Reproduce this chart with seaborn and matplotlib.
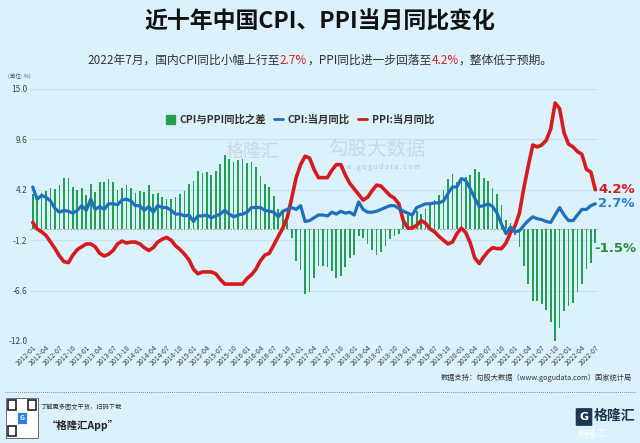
import numpy as np
import pandas as pd
import matplotlib
matplotlib.use('Agg')
import matplotlib.pyplot as plt
import seaborn as sns
from matplotlib.lines import Line2D
from matplotlib.patches import Patch, Rectangle, FancyBboxPatch

# CPI / PPI YoY (%), monthly 2012-01 .. 2022-07
cpi = [4.5, 3.2, 3.6, 3.4, 3.0, 2.2, 1.8, 2.0, 1.9, 1.7, 2.0, 2.5,
       2.0, 3.2, 2.1, 2.4, 2.1, 2.7, 2.7, 2.6, 3.1, 3.2, 3.0, 2.5,
       2.5, 2.0, 2.4, 1.8, 2.5, 2.3, 2.3, 2.0, 1.6, 1.6, 1.4, 1.5,
       0.8, 1.4, 1.4, 1.5, 1.2, 1.4, 1.6, 2.0, 1.6, 1.3, 1.5, 1.6,
       1.8, 2.3, 2.3, 2.3, 2.0, 1.9, 1.8, 1.3, 1.9, 2.1, 2.3, 2.1,
       2.5, 0.8, 0.9, 1.2, 1.5, 1.5, 1.4, 1.8, 1.6, 1.9, 1.7, 1.8,
       1.5, 2.9, 2.1, 1.8, 1.8, 1.9, 2.1, 2.3, 2.5, 2.5, 2.2, 1.9,
       1.7, 1.5, 2.3, 2.5, 2.7, 2.7, 2.8, 2.8, 3.0, 3.8, 4.5, 4.5,
       5.4, 5.2, 4.3, 3.3, 2.4, 2.5, 2.7, 2.4, 1.7, 0.5, -0.5, 0.2,
       -0.3, -0.2, 0.4, 0.9, 1.3, 1.1, 1.0, 0.8, 0.7, 1.5, 2.3, 1.5,
       0.9, 0.9, 1.5, 2.1, 2.1, 2.5, 2.7]
ppi = [0.7, 0.0, -0.3, -0.7, -1.4, -2.1, -2.9, -3.5, -3.6, -2.8, -2.2, -1.9,
       -1.6, -1.6, -1.9, -2.6, -2.9, -2.7, -2.3, -1.6, -1.3, -1.5, -1.4, -1.4,
       -1.6, -2.0, -2.3, -2.0, -1.4, -1.1, -0.9, -1.2, -1.8, -2.2, -2.7, -3.3,
       -4.3, -4.8, -4.6, -4.6, -4.6, -4.8, -5.4, -5.9, -5.9, -5.9, -5.9, -5.9,
       -5.3, -4.9, -4.3, -3.4, -2.8, -2.6, -1.7, -0.8, 0.1, 1.2, 3.3, 5.5,
       6.9, 7.8, 7.6, 6.4, 5.5, 5.5, 5.5, 6.3, 6.9, 6.9, 5.8, 4.9,
       4.3, 3.7, 3.1, 3.4, 4.1, 4.7, 4.6, 4.1, 3.6, 3.3, 2.7, 0.9,
       0.1, 0.1, 0.4, 0.9, 0.6, 0.0, -0.3, -0.8, -1.2, -1.6, -1.4, -0.5,
       0.1, -0.4, -1.5, -3.1, -3.7, -3.0, -2.4, -2.0, -2.1, -2.1, -1.5, -0.4,
       0.3, 1.7, 4.4, 6.8, 9.0, 8.8, 9.0, 9.5, 10.7, 13.5, 12.9, 10.3,
       9.1, 8.8, 8.3, 8.0, 6.4, 6.1, 4.2]
months = pd.date_range('2012-01', '2022-07', freq='MS').strftime('%Y-%m').tolist()
yticks = [15.0, 9.6, 4.2, -1.2, -6.6, -12.0]

df = pd.DataFrame({'month': months, 'cpi': cpi, 'ppi': ppi})
df['idx'] = np.arange(len(df))
df['diff'] = df['cpi'] - df['ppi']

bg = '#dbf1fb'
green = '#22a052'
blue = '#1f6fbf'
red = '#d71a1e'

sns.set_style('white')
plt.rcParams['font.family'] = ['Noto Sans CJK SC', 'DejaVu Sans']

fig = plt.figure(figsize=(6.4, 4.43), dpi=100, facecolor=bg)
ax = fig.add_axes([30 / 640, 1 - 341 / 443, 568 / 640, 252 / 443])
ax.set_facecolor(bg)

sns.barplot(data=df, x='idx', y='diff', native_scale=True, color=green,
            width=0.38, saturation=1, linewidth=0, ax=ax, zorder=2)
sns.lineplot(data=df, x='idx', y='cpi', color=blue, lw=2.3, ax=ax, zorder=4)
sns.lineplot(data=df, x='idx', y='ppi', color=red, lw=2.6, ax=ax, zorder=3)

ax.set_ylim(-12, 15)
ax.set_xlim(-0.6, len(df) - 0.4)
ax.set_yticks(yticks)
ax.set_yticklabels([f'{v:.1f}' for v in yticks], fontsize=6, color='#444444')
for v in yticks:
    ax.axhline(v, color='#c6e4f0', lw=0.8, zorder=0)
ax.axhline(0, color='#999999', lw=0.8, ls=(0, (1.5, 1.5)), zorder=1)
ax.set_xticks(df['idx'][::3])
ax.set_xticklabels(df['month'][::3], rotation=45, ha='right',
                   rotation_mode='anchor', fontsize=5, color='#444444')
ax.tick_params(axis='both', length=0, pad=2)
ax.set_xlabel('')
ax.set_ylabel('')
for s in ax.spines.values():
    s.set_visible(False)

handles = [Patch(color=green, label='CPI与PPI同比之差'),
           Line2D([], [], color=blue, lw=2, label='CPI:当月同比'),
           Line2D([], [], color=red, lw=2, label='PPI:当月同比')]
leg = ax.legend(handles=handles, loc='center', bbox_to_anchor=(0.475, 0.877),
                ncol=3, frameon=False, handlelength=0.9,
                handleheight=0.9, handletextpad=0.4, columnspacing=0.8,
                prop={'weight': 'bold', 'size': 7.5})
for t in leg.get_texts():
    t.set_color('#333333')

last = len(df) - 1
ax.text(last + 0.6, ppi[-1], f'{ppi[-1]}%', color=red, fontsize=9.5,
        fontweight='bold', va='center', ha='left', family='DejaVu Sans')
ax.text(last + 0.6, cpi[-1], f'{cpi[-1]}%', color='#2a7fd0', fontsize=9.5,
        fontweight='bold', va='center', ha='left', family='DejaVu Sans')
ax.text(last - 0.2, df['diff'].iloc[-1] - 0.6, f"{df['diff'].iloc[-1]:.1f}%",
        color='#2e8b3c', fontsize=9.5, fontweight='bold', va='center',
        ha='left', family='DejaVu Sans')

# watermark
ax.text(0.44, 0.75, '格隆汇', transform=ax.transAxes, fontsize=13,
        color='#b8cbd6', alpha=0.6, ha='right', va='center', zorder=1)
ax.text(0.61, 0.76, '勾股大数据', transform=ax.transAxes, fontsize=14,
        color='#b8cbd6', alpha=0.6, ha='center', va='center', zorder=1)
ax.text(0.61, 0.69, 'w w w . g o g u d a t a . c o m', transform=ax.transAxes,
        fontsize=5, color='#a8bccb', alpha=0.8, ha='center', va='center', zorder=1)

# title and subtitle
fig.text(0.5, 1 - 22 / 443, '近十年中国CPI、PPI当月同比变化', ha='center',
         va='center', fontsize=16.5, fontweight='bold', color='#111111')
parts = [('2022年7月，国内CPI同比小幅上行至', '#333333'), ('2.7%', red),
         ('，PPI同比进一步回落至', '#333333'), ('4.2%', red),
         ('，整体低于预期。', '#333333')]
renderer = fig.canvas.get_renderer()
texts = []
for s, c in parts:
    t = fig.text(0, 1 - 60 / 443, s, color=c, fontsize=8.5, va='center', ha='left')
    texts.append(t)
widths = [t.get_window_extent(renderer).width / fig.bbox.width for t in texts]
x = 0.5 - sum(widths) / 2
for t, w in zip(texts, widths):
    t.set_x(x)
    x += w
fig.text(8 / 640, 1 - 76 / 443, '(单位: %)', fontsize=4, color='#555555', va='center')

# footer
fig.text(632 / 640, 1 - 378 / 443, '数据支持：勾股大数据（www.gogudata.com）国家统计局',
         ha='right', va='center', fontsize=5.2, color='#333333')
fig.add_artist(Line2D([5 / 640, 635 / 640], [1 - 392 / 443] * 2, color='#666666',
                      lw=0.6, ls=(0, (1, 1.5))))
fig.add_artist(Rectangle((6 / 640, 1 - 438 / 443), 32 / 640, 40 / 443,
                         facecolor='white', edgecolor='#333333', lw=0.5))
for qx, qy in [(8, 400), (28, 400), (8, 426)]:
    fig.add_artist(Rectangle((qx / 640, 1 - (qy + 10) / 443), 8 / 640, 10 / 443,
                             facecolor='none', edgecolor='#222222', lw=1.2))
fig.add_artist(Rectangle((17 / 640, 1 - 424 / 443), 10 / 640, 12 / 443,
                         facecolor='#2f7fe0', edgecolor='white', lw=0.6))
fig.text(22 / 640, 1 - 418 / 443, 'G', fontsize=5, color='white', ha='center',
         va='center', fontweight='bold')
fig.text(40 / 640, 1 - 407 / 443, '了解更多图文干货，扫码下载', fontsize=4.5,
         color='#333333', va='center', style='italic')
fig.text(47 / 640, 1 - 425 / 443, '“格隆汇App”', fontsize=7.5, color='#222222',
         va='center', fontweight='bold', style='italic')
fig.add_artist(FancyBboxPatch((577 / 640, 1 - 425 / 443), 14 / 640, 16 / 443,
                              boxstyle='round,pad=0.002', facecolor='#1e3550',
                              edgecolor='none'))
fig.text(584 / 640, 1 - 417 / 443, 'G', fontsize=8, color='white', ha='center',
         va='center', fontweight='bold', family='DejaVu Sans')
fig.text(594 / 640, 1 - 416 / 443, '格隆汇', fontsize=10, color='#1e3550',
         va='center', fontweight='bold')
fig.text(578 / 640, 1 - 434 / 443, '格隆汇', fontsize=7, color='white',
         va='center', alpha=0.9)

fig.savefig('out.png', dpi=100, facecolor=bg)
